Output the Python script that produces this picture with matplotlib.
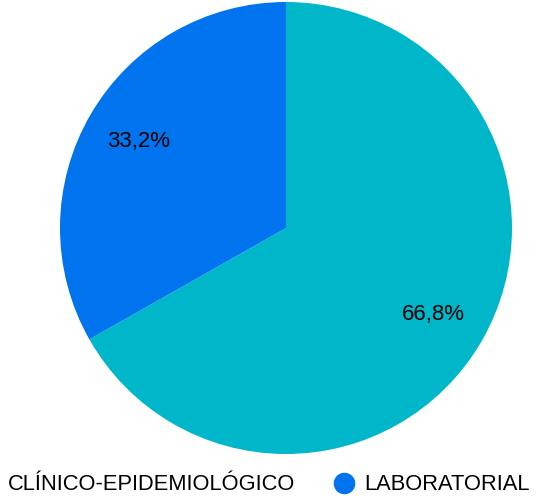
import matplotlib
matplotlib.use("Agg")
import matplotlib.pyplot as plt
from matplotlib.lines import Line2D

categories = ["CLÍNICO-EPIDEMIOLÓGICO", "LABORATORIAL"]
values = [66.8, 33.2]
colors = ["#00B7CA", "#0073EF"]

plt.rcParams['font.family'] = ['Liberation Sans', 'DejaVu Sans']

W, H = 538, 499
fig = plt.figure(figsize=(W / 100, H / 100), dpi=100)
cx, cy, r = 286, 228, 226
ax = fig.add_axes([(cx - r) / W, (H - cy - r) / H, 2 * r / W, 2 * r / H])

wedges, texts, autotexts = ax.pie(
    values, colors=colors, startangle=90, counterclock=False,
    autopct=lambda p: f"{p:.1f}%".replace(".", ","), pctdistance=0.757,
    textprops=dict(fontsize=16, color="black"),
    wedgeprops=dict(linewidth=0),
)
ax.set_xlim(-1, 1)
ax.set_ylim(-1, 1)
ax.set_aspect('equal')

handles = [Line2D([0], [0], marker='o', linestyle='none', markersize=14.5,
                  markerfacecolor=c, markeredgecolor=c) for c in colors]
fig.legend(handles, categories, loc='center left', ncol=2,
           bbox_to_anchor=(-22.94 / W, 1 - 485 / H), frameon=False,
           fontsize=15.75, handletextpad=0.414, columnspacing=1.72,
           handlelength=1.0, borderaxespad=0, borderpad=0)

fig.savefig("out.png", dpi=100)
